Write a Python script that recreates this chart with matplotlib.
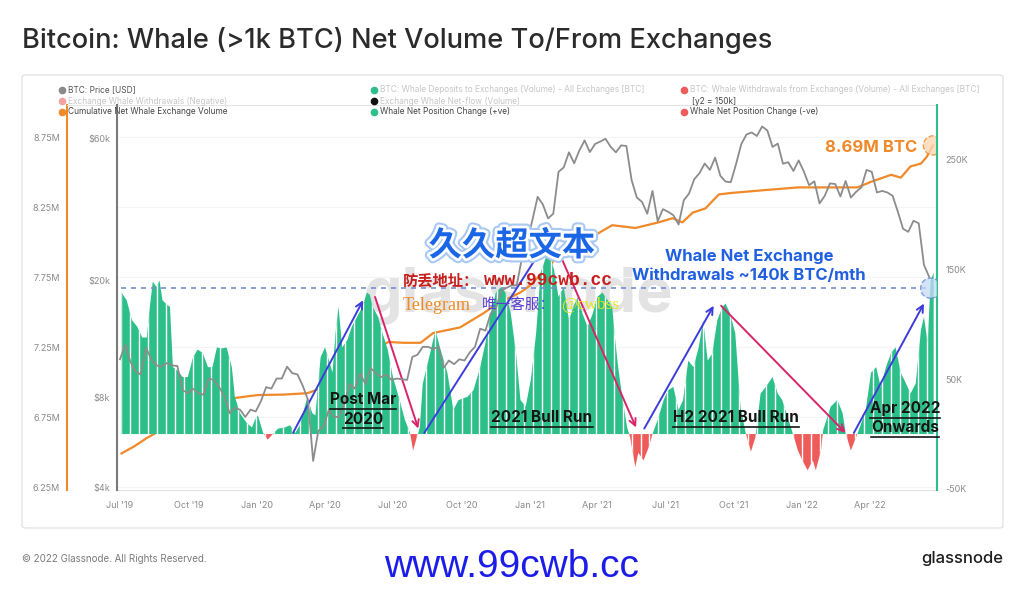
"""Glassnode-style whale exchange net volume chart."""
import matplotlib
matplotlib.use('Agg')
import matplotlib.pyplot as plt
import matplotlib.dates as mdates
import matplotlib.patheffects as pe
from matplotlib.patches import FancyBboxPatch
from matplotlib.lines import Line2D
import pandas as pd

plt.rcParams['font.family'] = ['Inter', 'DejaVu Sans']

# ---- data -------------------------------------------------------------
# weekly BTC close (USD), Mondays from 2019-07-01
price_start = '2019-07-01'
price = [
    10800, 12100, 10600, 9800, 9600, 11800, 10800, 10300, 10200, 10500,
    10300, 10250, 8500, 8300, 8600, 8300, 8200, 9300, 9200, 8700,
    8100, 7100, 7400, 7300, 6900, 7300, 7200,
    7800, 8700, 8600, 9300, 9300, 10200, 9700, 9600, 8800, 7900,
    4900, 6200, 6400, 7300, 6900, 6900, 7700, 8900, 8600, 9700,
    8900, 10100, 9700, 9400, 9600, 9200, 9300, 9250, 9200, 11000,
    11200, 11900, 11900, 11700, 11900, 10100, 10700, 10400, 10800, 10700,
    11400, 11900, 13700, 13500, 15400, 16000, 18400, 18800, 19200, 19200,
    23800, 27000,
    31900, 38200, 36000, 32300, 33500, 46400, 48000, 54000, 49600, 54800,
    59200, 54100, 57600, 58700, 60000, 56300, 54000, 57000, 56700, 43500,
    38000, 36700, 33500, 40000, 31600, 34700, 34000, 33100, 30800, 37200,
    39200, 43800, 45900, 49500, 47100, 51800, 45000, 43000, 42800, 49200,
    57500, 62000, 63000, 61300, 66000, 64000, 56300, 57800, 49400, 50000,
    46700, 50700,
    46500, 41800, 43100, 36300, 38500, 42400, 42200, 38300, 43200, 38000,
    39700, 41100, 47100, 46400, 39500, 40000, 39500, 38500, 34000, 29800,
    29100, 31700, 31100, 22500, 20500,
]

# cumulative net whale exchange volume (M BTC)
cum_dates = [
    '2019-07-03', '2019-07-20', '2019-08-06', '2019-09-15', '2019-10-30',
    '2019-12-02', '2020-01-02', '2020-02-05', '2020-03-08', '2020-03-19',
    '2020-04-20', '2020-05-20', '2020-06-25', '2020-07-15', '2020-08-07',
    '2020-08-24', '2020-09-29', '2020-10-30', '2020-11-18', '2020-12-19',
    '2021-01-01', '2021-01-21', '2021-02-17', '2021-03-26', '2021-04-21',
    '2021-05-22', '2021-06-22', '2021-07-11', '2021-07-24', '2021-08-07',
    '2021-08-24', '2021-09-11', '2021-09-27', '2021-11-10', '2021-12-26',
    '2022-02-08', '2022-03-16', '2022-04-03', '2022-04-30', '2022-05-13',
    '2022-05-26', '2022-06-09', '2022-06-17', '2022-06-25',
]
cum_vals = [
    6.49, 6.54, 6.60, 6.72, 6.83, 6.886, 6.907, 6.91, 6.92, 6.94,
    7.05, 7.18, 7.286, 7.28, 7.28, 7.35, 7.39, 7.49, 7.56, 7.64,
    7.69, 7.80, 7.95, 8.04, 8.12, 8.10, 8.14, 8.17, 8.14, 8.21,
    8.24, 8.34, 8.35, 8.37, 8.39, 8.39, 8.39, 8.43, 8.48, 8.46,
    8.54, 8.56, 8.61, 8.69,
]

# whale net position change (30d, thousand BTC; +ve = net withdrawals)
net_dates = [
    '2019-07-03', '2019-07-10', '2019-07-17', '2019-07-24', '2019-07-31',
    '2019-08-06', '2019-08-10', '2019-08-14', '2019-08-19', '2019-08-23',
    '2019-08-27', '2019-09-02', '2019-09-06', '2019-09-10', '2019-09-16',
    '2019-09-23', '2019-09-30', '2019-10-07', '2019-10-13', '2019-10-20',
    '2019-10-27', '2019-11-02', '2019-11-08', '2019-11-14', '2019-11-21',
    '2019-11-28', '2019-12-02', '2019-12-09', '2019-12-18', '2019-12-25',
    '2019-12-29', '2020-01-02', '2020-01-09', '2020-01-15', '2020-01-22',
    '2020-01-29', '2020-02-07', '2020-02-14', '2020-02-21', '2020-02-27',
    '2020-03-08', '2020-03-15', '2020-03-19', '2020-03-26', '2020-04-01',
    '2020-04-05', '2020-04-11', '2020-04-15', '2020-04-19', '2020-04-24',
    '2020-05-01', '2020-05-07', '2020-05-14', '2020-05-21', '2020-05-27',
    '2020-05-31', '2020-06-04', '2020-06-11', '2020-06-17', '2020-06-24',
    '2020-07-01', '2020-07-10', '2020-07-17', '2020-07-24', '2020-07-28',
    '2020-08-02', '2020-08-06', '2020-08-10', '2020-08-20', '2020-08-27',
    '2020-09-02', '2020-09-12', '2020-09-20', '2020-09-27', '2020-10-09',
    '2020-10-17', '2020-10-26', '2020-11-02', '2020-11-09', '2020-11-16',
    '2020-11-23', '2020-11-29', '2020-12-06', '2020-12-13', '2020-12-19',
    '2020-12-26', '2021-01-02', '2021-01-09', '2021-01-15', '2021-01-22',
    '2021-01-29', '2021-02-02', '2021-02-08', '2021-02-15', '2021-02-22',
    '2021-02-28', '2021-03-06', '2021-03-12', '2021-03-19', '2021-03-26',
    '2021-04-01', '2021-04-08', '2021-04-15', '2021-04-21', '2021-04-25',
    '2021-04-29', '2021-05-05', '2021-05-11', '2021-05-15', '2021-05-22',
    '2021-05-26', '2021-06-02', '2021-06-09', '2021-06-14', '2021-06-21',
    '2021-06-29', '2021-07-05', '2021-07-12', '2021-07-19', '2021-07-25',
    '2021-08-01', '2021-08-08', '2021-08-15', '2021-08-21', '2021-08-27',
    '2021-09-02', '2021-09-09', '2021-09-16', '2021-09-20', '2021-09-26',
    '2021-10-03', '2021-10-10', '2021-10-17', '2021-10-24', '2021-10-30',
    '2021-11-06', '2021-11-13', '2021-11-22', '2021-11-29', '2021-12-05',
    '2021-12-12', '2021-12-19', '2021-12-26', '2022-01-01', '2022-01-08',
    '2022-01-15', '2022-01-19', '2022-01-26', '2022-01-29', '2022-02-08',
    '2022-02-17', '2022-02-24', '2022-02-28', '2022-03-07', '2022-03-14',
    '2022-03-21', '2022-03-27', '2022-04-03', '2022-04-10', '2022-04-16',
    '2022-04-23', '2022-04-30', '2022-05-06', '2022-05-13', '2022-05-20',
    '2022-05-26', '2022-06-02', '2022-06-09', '2022-06-13', '2022-06-18',
    '2022-06-22', '2022-06-26',
]
net_vals = [
    129, 122, 104, 98, 88, 88, 116, 139, 134, 140,
    122, 118, 116, 61, 58, 52, 52, 70, 77, 74,
    61, 61, 79, 78, 79, 61, 34, 19, 10, 6,
    13, 17, 1, -5, 0, 5, 6, 8, 1, 8,
    33, 19, 17, 70, 79, 70, 56, 92, 116, 79,
    86, 98, 107, 116, 129, 127, 116, 107, 92, 77,
    52, 31, 13, 1, -15, -3, 6, 46, 74, 95,
    79, 56, 22, 31, 34, 40, 61, 83, 110, 129,
    134, 129, 110, 74, 31, 25, 50, 92, 147, 161,
    159, 150, 125, 134, 104, 116, 125, 110, 98, 110,
    125, 129, 122, 116, 86, 61, 31, 6, -3, -30,
    -17, -24, -12, 0, 13, 31, 40, 43, 22, 31,
    67, 61, 79, 104, 67, 73, 104, 116, 119, 110,
    92, 25, 1, -16, -3, 37, 43, 52, 37, 31,
    16, 1, -15, -24, -33, -24, -33, -15, 4, 25,
    31, 19, 1, -15, -3, 10, 22, 56, 61, 43,
    61, 74, 79, 56, 46, 37, 46, 95, 107, 83,
    140, 147,
]
withdrawal_level = 133  # thousand BTC / month

# ---- figure ------------------------------------------------------------
W, H = 1024, 590
fig = plt.figure(figsize=(W / 100, H / 100), dpi=100)


def fx(px):
    return px / W


def fy(py):
    return 1 - py / H


fig.add_artist(FancyBboxPatch((fx(22), fy(528)), fx(1003) - fx(22), fy(75) - fy(528),
                              boxstyle='round,pad=0,rounding_size=0.004',
                              transform=fig.transFigure, fc='white', ec='#e4e4e4', lw=1))

fig.text(fx(22), fy(40), 'Bitcoin: Whale (>1k BTC) Net Volume To/From Exchanges',
         fontsize=19.6, fontweight='medium', color='#2b2b2b', va='center')

rect = [fx(117), fy(490), fx(937) - fx(117), fy(105) - fy(490)]
ax_cum = fig.add_axes(rect)
ax_net = fig.add_axes(rect, sharex=ax_cum)
ax_price = fig.add_axes(rect, sharex=ax_cum)
for i, a in enumerate([ax_cum, ax_net, ax_price]):
    a.set_zorder(i + 1)
    a.set_facecolor('none')
    for s in a.spines.values():
        s.set_visible(False)

p_dates = pd.date_range(price_start, periods=len(price), freq='7D')
c_dates = pd.to_datetime(cum_dates)
n_dates = pd.to_datetime(net_dates)
n_vals = [v * 1000 for v in net_vals]

tick_kw = dict(labelsize=6.5, labelcolor='#8a8a8a', length=0)

# cumulative volume (outer left axis)
ax_cum.plot(c_dates, [v * 1e6 for v in cum_vals], color='#f0892a', lw=1.6)
ax_cum.set_ylim(6.2286e6, 8.9786e6)
ax_cum.set_yticks([6.25e6, 6.75e6, 7.25e6, 7.75e6, 8.25e6, 8.75e6])
ax_cum.set_yticklabels(['6.25M', '6.75M', '7.25M', '7.75M', '8.25M', '8.75M'])
ax_cum.spines['left'].set_visible(True)
ax_cum.spines['left'].set_position(('outward', 36))
ax_cum.spines['left'].set_color('#f0892a')
ax_cum.spines['left'].set_linewidth(1.5)
ax_cum.spines['bottom'].set_visible(True)
ax_cum.spines['bottom'].set_color('#e3e3e3')
ax_cum.tick_params(axis='y', pad=5, **tick_kw)
ax_cum.tick_params(axis='x', pad=8, **tick_kw)
ax_cum.grid(axis='y', color='#f4f4f4', lw=0.8)
ax_cum.set_axisbelow(True)
ax_cum.xaxis.set_major_locator(mdates.MonthLocator(bymonth=[1, 4, 7, 10]))
ax_cum.xaxis.set_major_formatter(mdates.DateFormatter("%b '%y"))
ax_cum.set_xlim(pd.Timestamp('2019-06-27'), pd.Timestamp('2022-06-30 12:00'))
ax_cum.text(0.49, 0.505, 'glassnode', transform=ax_cum.transAxes, fontsize=44,
            fontweight='bold', color='#e3e3e3', ha='center', va='center', zorder=0)

# whale net position change (right axis)
green, red = '#2dbf8a', '#ee5b5b'
ax_net.fill_between(n_dates, n_vals, 0, where=[v >= 0 for v in n_vals],
                    interpolate=True, color=green, lw=0)
ax_net.fill_between(n_dates, n_vals, 0, where=[v <= 0 for v in n_vals],
                    interpolate=True, color=red, lw=0)
clip = ax_net.fill_between(n_dates, n_vals, 0, color='none', lw=0)
gaps = ax_net.vlines(pd.date_range(n_dates[0], n_dates[-1], freq='12D'), -60e3, 310e3,
                     color='white', lw=1.0)
gaps.set_clip_path(clip.get_paths()[0], ax_net.transData)
ax_net.hlines(withdrawal_level * 1000, n_dates[0], n_dates[-1], color='#7490d0',
              lw=1.2, linestyles=(0, (3, 3)))
ax_net.scatter([n_dates[-2]], [withdrawal_level * 1000], s=210, fc='#c6dbf6',
               ec='#5b82d6', lw=1, linestyle='--', alpha=0.75, zorder=5)
ax_net.set_ylim(-51e3, 300e3)
ax_net.yaxis.tick_right()
ax_net.set_yticks([-50e3, 50e3, 150e3, 250e3])
ax_net.set_yticklabels(['-50K', '50K', '150K', '250K'])
ax_net.spines['right'].set_visible(True)
ax_net.spines['right'].set_color(green)
ax_net.spines['right'].set_linewidth(1.5)
ax_net.tick_params(axis='y', pad=6, **tick_kw)
ax_net.tick_params(axis='x', labelbottom=False, length=0)

# BTC price (inner left axis, log)
ax_price.plot(p_dates, price, color='#8c8c8c', lw=1.3)
ax_price.set_yscale('log')
ax_price.set_ylim(3910, 78000)
ax_price.set_yticks([4000, 8000, 20000, 60000])
ax_price.set_yticklabels(['$4k', '$8k', '$20k', '$60k'])
ax_price.minorticks_off()
ax_price.spines['left'].set_visible(True)
ax_price.spines['left'].set_color('#7a7a7a')
ax_price.spines['left'].set_linewidth(1.5)
ax_price.tick_params(axis='y', pad=5, **tick_kw)
ax_price.tick_params(axis='x', labelbottom=False, length=0)

# orange marker at the last cumulative value
ax_cum.scatter([c_dates[-1]], [cum_vals[-1] * 1e6], s=190, fc='#fbd7b3', ec='#f0892a',
               lw=1, linestyle='--', alpha=0.8, zorder=5)

# top frame line
fig.add_artist(Line2D([fx(67), fx(937)], [fy(105), fy(105)], color='#e3e3e3', lw=0.8))

# ---- legend ----------------------------------------------------------
legend = [
    (62, 90, '#8a8a8a', 'BTC: Price [USD]', '#555555'),
    (374, 90, green, 'BTC: Whale Deposits to Exchanges (Volume) - All Exchanges [BTC]', '#c6c6c6'),
    (684, 90, red, 'BTC: Whale Withdrawals from Exchanges (Volume) - All Exchanges [BTC]', '#c6c6c6'),
    (62, 101, '#f3a3a3', 'Exchange Whale Withdrawals (Negative)', '#c6c6c6'),
    (374, 101, '#111111', 'Exchange Whale Net-flow (Volume)', '#c6c6c6'),
    (62, 112, '#f0892a', 'Cumulative Net Whale Exchange Volume', '#444444'),
    (374, 112, green, 'Whale Net Position Change (+ve)', '#444444'),
    (684, 112, red, 'Whale Net Position Change (-ve)', '#444444'),
]
for x, y, dot, label, tc in legend:
    fig.add_artist(Line2D([fx(x)], [fy(y)], marker='o', ms=4.5, color=dot, lw=0))
    fig.text(fx(x + 6), fy(y), label, fontsize=6, color=tc, va='center')
fig.text(fx(692), fy(101), '[y2 = 150k]', fontsize=6, color='#444444', va='center')

# ---- annotations -------------------------------------------------------
blue, pink = '#3c3cdc', '#d8246a'
arrows = [
    (blue, ('2020-02-18', 1), ('2020-05-22', 122)),
    (pink, ('2020-06-07', 125), ('2020-08-04', 5)),
    (blue, ('2020-08-12', 1), ('2021-01-16', 168)),
    (pink, ('2021-02-09', 165), ('2021-05-23', 6)),
    (blue, ('2021-06-03', 5), ('2021-09-04', 117)),
    (pink, ('2021-09-14', 117), ('2022-02-28', 1)),
    (blue, ('2022-03-11', 1), ('2022-06-13', 119)),
]
for col, (d0, v0), (d1, v1) in arrows:
    ax_net.annotate('', xy=(pd.Timestamp(d1), v1 * 1000), xytext=(pd.Timestamp(d0), v0 * 1000),
                    arrowprops=dict(arrowstyle='->', color=col, lw=1.4,
                                    shrinkA=0, shrinkB=0, mutation_scale=12), zorder=6)

underlined = []
for x, y, s in [(363, 400, 'Post Mar'), (363, 419, '2020'), (542, 418, '2021 Bull Run'),
                (736, 418, 'H2 2021 Bull Run'), (905, 409, 'Apr 2022'), (905, 428, 'Onwards')]:
    underlined.append(fig.text(fx(x), fy(y), s, fontsize=11, fontweight='bold',
                               color='#151515', ha='center', va='center', zorder=10))

fig.text(fx(749), fy(256), 'Whale Net Exchange', fontsize=12, fontweight='bold',
         color='#1f5fe0', ha='center', va='center', zorder=10)
fig.text(fx(749), fy(275), 'Withdrawals ~140k BTC/mth', fontsize=12, fontweight='bold',
         color='#1f5fe0', ha='center', va='center', zorder=10)
fig.text(fx(871), fy(147), '8.69M BTC', fontsize=12, fontweight='bold',
         color='#f0892a', ha='center', va='center', zorder=10)

# ---- overlay watermarks ------------------------------------------------
fig.text(fx(512), fy(246), '久久超文本', fontsize=24, fontweight='bold', color='#1a66e6',
         family=['Noto Sans CJK SC', 'DejaVu Sans'], ha='center', va='center', zorder=12,
         path_effects=[pe.Stroke(linewidth=7, foreground='#a9c8f2'),
                       pe.Stroke(linewidth=4, foreground='white'), pe.Normal()])
fig.text(fx(403), fy(280), '防丢地址：', fontsize=11, fontweight='bold', color='#c81e1e',
         family=['Noto Sans CJK SC', 'DejaVu Sans'], va='center', zorder=12)
fig.text(fx(484), fy(280), 'www.99cwb.cc', fontsize=13, fontweight='bold', color='#c81e1e',
         family=['Liberation Mono', 'DejaVu Sans'], va='center', zorder=12)
fig.text(fx(403), fy(305), 'Telegram', fontsize=13, color='#f08a24',
         family=['Liberation Serif', 'DejaVu Sans'], va='center', zorder=12)
fig.text(fx(482), fy(305), '唯一客服：', fontsize=10.5, color='#5a3fd0',
         family=['Noto Sans CJK SC', 'DejaVu Sans'], va='center', zorder=12)
fig.text(fx(561), fy(305), '@cwbss', fontsize=12.5, color='#e6e62a',
         family=['Liberation Serif', 'DejaVu Sans'], va='center', zorder=12)

# ---- footer ------------------------------------------------------------
fig.text(fx(22), fy(559), '© 2022 Glassnode. All Rights Reserved.', fontsize=7,
         color='#7a7a7a', va='center')
fig.text(fx(1003), fy(559), 'glassnode', fontsize=12, fontweight='medium',
         color='#1e1e1e', ha='right', va='center')
fig.text(fx(511), fy(567), 'www.99cwb.cc', fontsize=28, color='#1c1ce8',
         family=['Liberation Sans', 'DejaVu Sans'], ha='center', va='center', zorder=12)

# underline the phase labels
fig.canvas.draw()
renderer = fig.canvas.get_renderer()
for t in underlined:
    bb = t.get_window_extent(renderer)
    fig.add_artist(Line2D([bb.x0 / W, bb.x1 / W], [(bb.y0 - 1) / H, (bb.y0 - 1) / H],
                          color='#151515', lw=1.2, zorder=10))

fig.savefig('out.png', dpi=100)
print('saved out.png')
